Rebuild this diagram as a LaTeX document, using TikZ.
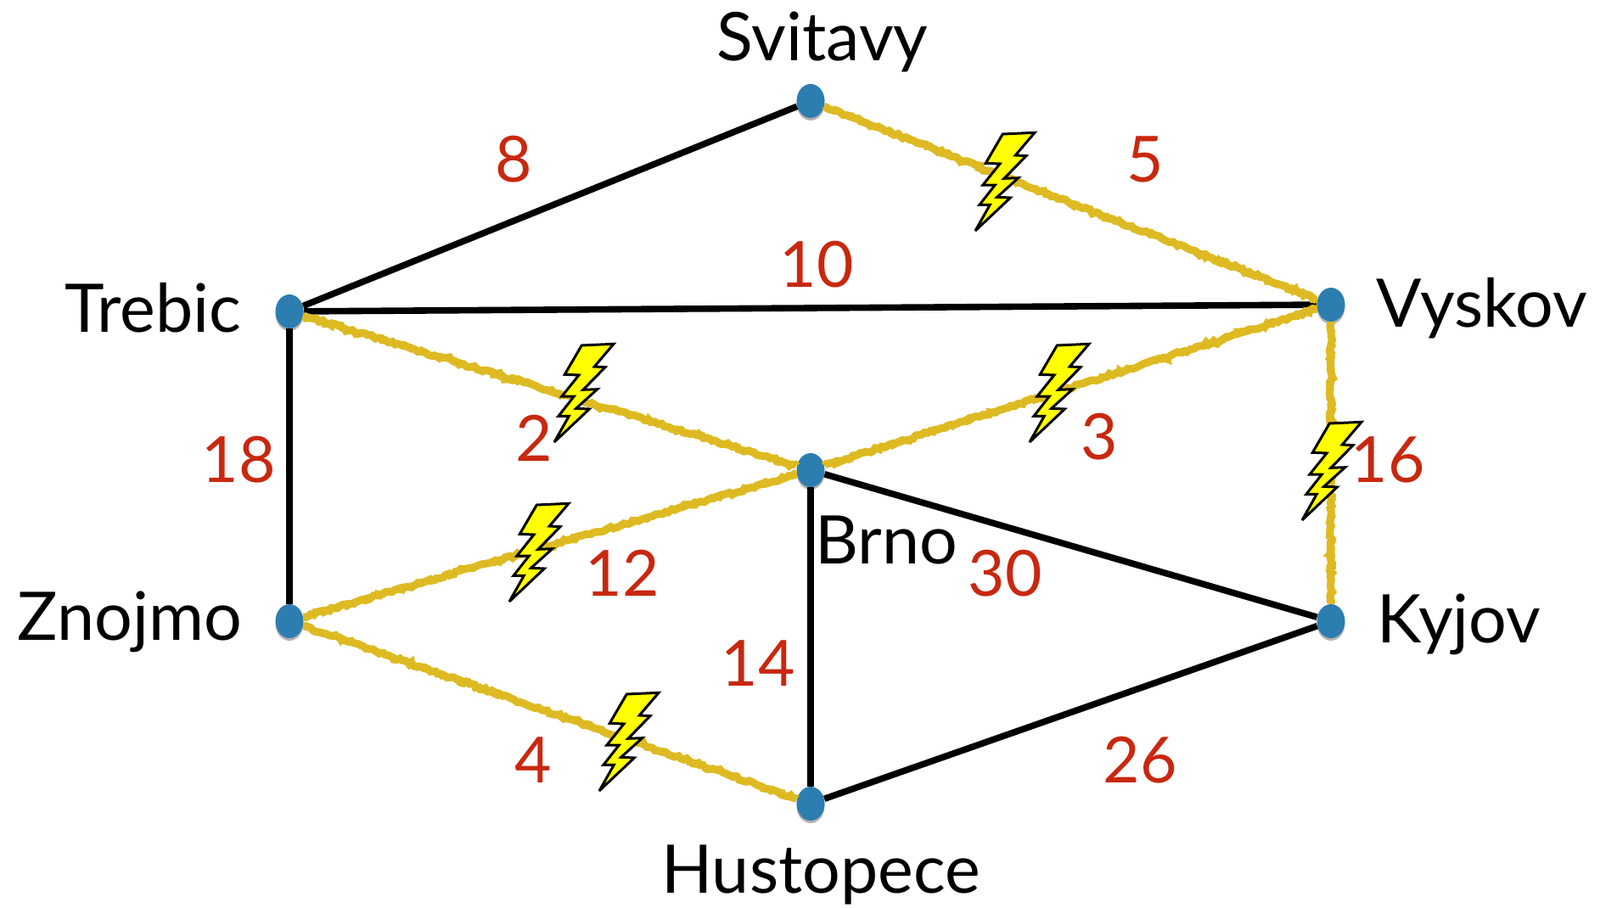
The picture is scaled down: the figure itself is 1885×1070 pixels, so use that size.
\documentclass[tikz,border=0pt]{standalone}
\usepackage{fontspec}
\setmainfont{Lato}
\usetikzlibrary{shapes.geometric,shadows,decorations.pathmorphing}
\definecolor{DotBlue}{RGB}{44,125,176}
\definecolor{CutYellow}{RGB}{222,186,34}
\definecolor{BoltYellow}{RGB}{255,255,0}
\definecolor{WeightRed}{RGB}{200,40,15}
\tikzset{
  v/.style={ellipse,fill=DotBlue,inner sep=0pt,minimum width=16.5pt,minimum height=20pt,
    drop shadow={shadow xshift=0pt,shadow yshift=-1.5pt,opacity=.3,fill=black}},
  edge/.style={draw=black,line width=3.8pt},
  cut/.style={draw=CutYellow,line width=4.4pt,
    decorate,decoration={random steps,segment length=2pt,amplitude=.8pt},
    preaction={draw=CutYellow,line width=4.4pt,decorate,
      decoration={random steps,segment length=1.5pt,amplitude=1pt}}},
  city/.style={anchor=base,inner sep=0pt,font=\fontsize{39.5}{39.5}\selectfont},
  weight/.style={anchor=base,inner sep=0pt,text=WeightRed,font=\fontsize{37.5}{37.5}\selectfont},
  bolt/.pic={
    \draw[draw=black,fill=BoltYellow,line width=1.5pt,line join=miter,miter limit=3]
      (0,0) -- (17.3,-30.7) -- (5,-30.7) -- (23.3,-54) -- (9,-54) -- (29,-79) -- (12.3,-79.7)
      -- (32.3,-114) -- (70,-115.7) -- (47.3,-89) -- (60,-88.3) -- (34,-61.7) -- (50.7,-62.3)
      -- (25.7,-39.7) -- (41.3,-39) -- cycle;
  },
}
\begin{document}
\begin{tikzpicture}[x=.5pt,y=-.5pt]
\useasboundingbox (0,0) rectangle (1885,1070);
\node[v] (svitavy) at (955,119) {};
\node[v] (trebic) at (341,367) {};
\node[v] (vyskov) at (1568,359) {};
\node[v] (brno) at (955,554) {};
\node[v] (znojmo) at (341,732) {};
\node[v] (kyjov) at (1568,732) {};
\node[v] (hustopece) at (955,947) {};
% plain lines
\draw[edge] (trebic) -- (svitavy);
\draw[edge] (trebic) -- (vyskov);
\draw[edge] (trebic) -- (znojmo);
\draw[edge] (brno) -- (kyjov);
\draw[edge] (brno) -- (hustopece);
\draw[edge] (hustopece) -- (kyjov);
% broken lines
\draw[cut] (svitavy) -- (vyskov);
\draw[cut] (trebic) -- (brno);
\draw[cut] (brno) -- (vyskov);
\draw[cut] (vyskov) -- (kyjov);
\draw[cut] (znojmo) -- (brno);
\draw[cut] (znojmo) -- (hustopece);
\pic at (1149,272) {bolt};
\pic at (653,521) {bolt};
\pic at (1213,521) {bolt};
\pic at (1534,613) {bolt};
\pic at (600,709) {bolt};
\pic at (706,932) {bolt};
% names
\node[city] (lsvitavy) at (969,72) {Svitavy};
\node[city] (ltrebic) at (180,391) {Trebic};
\node[city] (lvyskov) at (1746,385) {Vyskov};
\node[city] (lbrno) at (1044,664) {Brno};
\node[city] (lznojmo) at (153,754) {Znojmo};
\node[city] (lkyjov) at (1719,757) {Kyjov};
\node[city] (lhustopece) at (967,1052) {Hustopece};
% weights
\node[weight] (w8) at (605,214) {8};
\node[weight] (w5) at (1349,214) {5};
\node[weight] (w10) at (962,338) {10};
\node[weight] (w18) at (281,568) {18};
\node[weight] (w2) at (629,543) {2};
\node[weight] (w3) at (1295,541) {3};
\node[weight] (w16) at (1635,568) {16};
\node[weight] (w12) at (733,702) {12};
\node[weight] (w30) at (1184,702) {30};
\node[weight] (w14) at (893,808) {14};
\node[weight] (w4) at (628,922) {4};
\node[weight] (w26) at (1343,922) {26};
\end{tikzpicture}
\end{document}
